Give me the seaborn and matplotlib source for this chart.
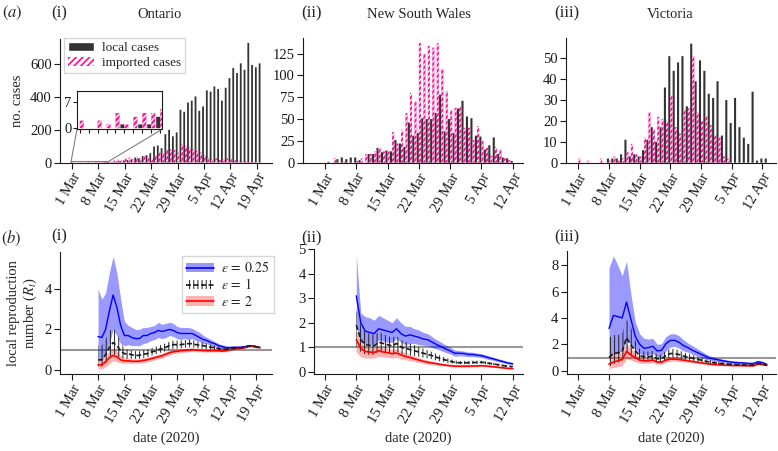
import numpy as np
import pandas as pd
import seaborn as sns
import matplotlib.pyplot as plt
from matplotlib.patches import Patch
from matplotlib.lines import Line2D
from mpl_toolkits.axes_grid1.inset_locator import mark_inset

sns.set_theme(style="ticks")
plt.rcParams["font.family"] = "serif"
plt.rcParams["font.serif"] = ["Liberation Serif", "DejaVu Serif"]
plt.rcParams["mathtext.fontset"] = "stix"
plt.rcParams["hatch.linewidth"] = 1.0

W, H = 778, 451
PINK = "#ff1a9c"
DARK = "#333333"

tick_days = [0, 7, 14, 21, 28, 35, 42, 49]
tick_labels = ["1 Mar", "8 Mar", "15 Mar", "22 Mar", "29 Mar", "5 Apr", "12 Apr", "19 Apr"]

# daily cases, day 0 = 1 Mar 2020
on_local = [0, 0, 0, 0, 0, 1, 0, 1, 1, 3, 3, 2, 5, 8, 12, 15, 20, 30, 25, 40,
            45, 57, 98, 104, 88, 173, 200, 160, 184, 322, 310, 367, 378, 404, 316, 343, 441, 433, 465, 449,
            378, 457, 516, 578, 547, 606, 567, 731, 596, 582, 606]
on_imported = [2, 0, 2, 1, 4, 1, 3, 4, 4, 5, 8, 12, 20, 15, 25, 30, 18, 35, 28, 38,
               30, 20, 45, 60, 55, 78, 80, 75, 60, 110, 98, 90, 80, 72, 60, 45, 30, 20, 25, 15,
               18, 25, 20, 15, 12, 5, 4, 3, 2, 1, 1]
nsw_local = [0, 1, 0, 4, 6, 4, 6, 6, 3, 0, 10, 10, 17, 12, 14, 13, 26, 22, 18, 46,
             31, 34, 51, 50, 50, 57, 78, 36, 50, 34, 62, 71, 53, 51, 31, 30, 15, 20, 29, 10,
             6, 5, 2]
nsw_imported = [0, 0, 5, 0, 2, 0, 0, 2, 5, 10, 10, 13, 17, 13, 13, 35, 22, 37, 57, 80,
                70, 137, 125, 134, 132, 137, 107, 82, 60, 63, 64, 40, 40, 26, 42, 25, 17, 8, 18, 15,
                5, 3, 0]
vic_local = [0, 0, 0, 0, 0, 0, 0, 2, 2, 2, 4, 11, 3, 4, 3, 6, 11, 17, 10, 17,
             36, 51, 44, 48, 51, 27, 57, 39, 49, 44, 33, 31, 39, 13, 30, 19, 31, 17, 12, 9,
             34, 1, 2, 2]
vic_imported = [2, 0, 1, 0, 0, 2, 0, 1, 3, 1, 2, 5, 9, 4, 3, 12, 24, 16, 22, 21,
                20, 32, 17, 14, 25, 26, 51, 24, 20, 22, 18, 13, 12, 3, 2, 0, 0, 0, 0, 0,
                0, 0, 0, 0]

# local reproduction number estimates, first day = 8 Mar (day 7)
r_start = 7
on_eps025 = [1.65, 1.6, 2.0, 2.9, 3.7, 3.1, 2.2, 1.7, 1.7, 1.6, 1.55, 1.55, 1.7, 1.7, 1.8, 1.85, 1.95, 1.9, 1.95, 2.0,
             1.95, 1.85, 1.8, 1.8, 1.8, 1.8, 1.7, 1.6, 1.5, 1.45, 1.35, 1.3, 1.2, 1.15, 1.1, 1.1, 1.12, 1.12, 1.12, 1.15,
             1.2, 1.2, 1.15, 1.12]
on_eps025_hi = [4.0, 3.5, 3.8, 4.8, 5.6, 4.8, 3.5, 2.4, 2.2, 2.1, 2.0, 2.0, 2.1, 2.1, 2.15, 2.2, 2.35, 2.25, 2.3, 2.35,
                2.3, 2.15, 2.1, 2.1, 2.1, 2.05, 1.95, 1.85, 1.7, 1.6, 1.5, 1.4, 1.3, 1.25, 1.2, 1.18, 1.18, 1.18, 1.18, 1.2,
                1.25, 1.25, 1.2, 1.15]
on_eps025_lo = [0.5, 0.5, 0.8, 1.3, 2.0, 1.7, 1.3, 1.2, 1.25, 1.2, 1.2, 1.2, 1.3, 1.35, 1.45, 1.5, 1.6, 1.55, 1.6, 1.7,
                1.65, 1.55, 1.5, 1.55, 1.5, 1.55, 1.45, 1.4, 1.3, 1.3, 1.2, 1.15, 1.1, 1.05, 1.02, 1.02, 1.05, 1.05, 1.07, 1.1,
                1.15, 1.15, 1.1, 1.08]
on_eps1 = [0.5, 0.5, 0.75, 1.1, 1.35, 1.2, 0.95, 0.8, 0.8, 0.75, 0.72, 0.72, 0.78, 0.8, 0.88, 0.92, 1.0, 1.05, 1.12, 1.2,
           1.25, 1.25, 1.25, 1.28, 1.3, 1.3, 1.25, 1.22, 1.2, 1.15, 1.12, 1.1, 1.05, 1.02, 1.02, 1.05, 1.08, 1.08, 1.1, 1.12,
           1.18, 1.18, 1.15, 1.1]
on_eps1_hi = [1.2, 1.2, 1.5, 1.9, 2.1, 1.8, 1.4, 1.05, 1.0, 0.95, 0.92, 0.92, 0.98, 1.0, 1.08, 1.12, 1.2, 1.25, 1.32, 1.4,
              1.45, 1.45, 1.45, 1.47, 1.5, 1.48, 1.42, 1.38, 1.35, 1.28, 1.25, 1.2, 1.15, 1.1, 1.1, 1.1, 1.12, 1.12, 1.14, 1.16,
              1.22, 1.22, 1.19, 1.14]
on_eps1_lo = [0.15, 0.15, 0.3, 0.55, 0.8, 0.7, 0.6, 0.55, 0.55, 0.55, 0.55, 0.55, 0.6, 0.62, 0.7, 0.75, 0.82, 0.87, 0.93, 1.0,
              1.05, 1.05, 1.07, 1.1, 1.12, 1.12, 1.08, 1.06, 1.05, 1.02, 1.0, 0.98, 0.96, 0.95, 0.96, 1.0, 1.04, 1.04, 1.06, 1.08,
              1.14, 1.14, 1.11, 1.06]
on_eps2 = [0.25, 0.25, 0.4, 0.6, 0.72, 0.65, 0.5, 0.45, 0.45, 0.43, 0.43, 0.43, 0.47, 0.5, 0.55, 0.6, 0.65, 0.7, 0.78, 0.85,
           0.9, 0.92, 0.95, 0.97, 0.98, 1.0, 0.98, 0.97, 0.96, 0.95, 0.95, 0.95, 0.95, 0.93, 0.95, 1.0, 1.03, 1.05, 1.07, 1.1,
           1.17, 1.17, 1.13, 1.1]
on_eps2_hi = [0.55, 0.55, 0.7, 0.95, 1.05, 0.95, 0.7, 0.6, 0.58, 0.55, 0.55, 0.55, 0.6, 0.62, 0.67, 0.72, 0.78, 0.83, 0.9, 0.97,
              1.0, 1.02, 1.05, 1.07, 1.08, 1.1, 1.07, 1.05, 1.04, 1.02, 1.02, 1.02, 1.0, 0.98, 1.0, 1.04, 1.07, 1.09, 1.11, 1.14,
              1.21, 1.21, 1.17, 1.13]
on_eps2_lo = [0.05, 0.05, 0.15, 0.3, 0.45, 0.4, 0.35, 0.32, 0.33, 0.32, 0.33, 0.33, 0.36, 0.4, 0.44, 0.49, 0.54, 0.58, 0.66, 0.74,
              0.8, 0.83, 0.86, 0.88, 0.9, 0.91, 0.9, 0.9, 0.89, 0.88, 0.88, 0.89, 0.9, 0.88, 0.9, 0.96, 0.99, 1.01, 1.03, 1.06,
              1.13, 1.13, 1.09, 1.07]

nsw_eps025 = [3.1, 2.0, 1.65, 1.6, 1.55, 1.75, 1.7, 1.65, 1.6, 1.75, 1.55, 1.45, 1.5, 1.45, 1.4, 1.33, 1.3, 1.2, 1.1, 1.02,
              0.92, 0.85, 0.75, 0.75, 0.74, 0.7, 0.7, 0.67, 0.65, 0.6, 0.55, 0.5, 0.45, 0.4, 0.35, 0.32]
nsw_eps025_hi = [4.75, 2.4, 2.25, 2.2, 2.1, 2.3, 2.2, 2.1, 2.0, 2.2, 2.0, 1.85, 1.85, 1.75, 1.7, 1.6, 1.55, 1.42, 1.3, 1.2,
                 1.08, 1.0, 0.88, 0.86, 0.84, 0.8, 0.79, 0.76, 0.73, 0.68, 0.62, 0.57, 0.51, 0.46, 0.4, 0.37]
nsw_eps025_lo = [1.9, 1.2, 1.15, 1.1, 1.1, 1.3, 1.25, 1.2, 1.2, 1.35, 1.2, 1.1, 1.15, 1.15, 1.1, 1.08, 1.05, 0.98, 0.92, 0.85,
                 0.78, 0.72, 0.63, 0.64, 0.64, 0.61, 0.61, 0.59, 0.57, 0.52, 0.48, 0.44, 0.39, 0.35, 0.3, 0.27]
nsw_eps1 = [1.9, 1.3, 1.1, 1.07, 1.05, 1.2, 1.15, 1.1, 1.05, 1.15, 1.0, 0.95, 0.9, 0.85, 0.8, 0.75, 0.7, 0.65, 0.58, 0.52,
            0.47, 0.42, 0.38, 0.36, 0.36, 0.36, 0.37, 0.37, 0.38, 0.36, 0.33, 0.3, 0.27, 0.24, 0.21, 0.2]
nsw_eps1_hi = [2.5, 1.9, 1.6, 1.55, 1.5, 1.6, 1.55, 1.45, 1.4, 1.45, 1.3, 1.22, 1.15, 1.08, 1.0, 0.93, 0.87, 0.8, 0.71, 0.63,
               0.57, 0.51, 0.46, 0.43, 0.43, 0.43, 0.44, 0.44, 0.44, 0.42, 0.38, 0.35, 0.31, 0.28, 0.25, 0.23]
nsw_eps1_lo = [1.0, 0.8, 0.7, 0.68, 0.68, 0.8, 0.78, 0.75, 0.72, 0.82, 0.72, 0.7, 0.67, 0.64, 0.6, 0.57, 0.54, 0.5, 0.45, 0.41,
               0.37, 0.34, 0.31, 0.3, 0.3, 0.3, 0.31, 0.31, 0.32, 0.3, 0.28, 0.25, 0.23, 0.2, 0.18, 0.17]
nsw_eps2 = [1.3, 0.95, 0.82, 0.8, 0.78, 0.85, 0.8, 0.77, 0.73, 0.76, 0.68, 0.62, 0.58, 0.52, 0.47, 0.42, 0.38, 0.35, 0.32, 0.29,
            0.26, 0.24, 0.22, 0.22, 0.22, 0.22, 0.23, 0.23, 0.24, 0.23, 0.21, 0.19, 0.17, 0.15, 0.13, 0.12]
nsw_eps2_hi = [1.7, 1.2, 1.05, 1.0, 0.98, 1.05, 1.0, 0.95, 0.9, 0.93, 0.83, 0.76, 0.7, 0.63, 0.57, 0.51, 0.46, 0.42, 0.38, 0.34,
               0.31, 0.28, 0.26, 0.25, 0.25, 0.25, 0.26, 0.26, 0.27, 0.26, 0.24, 0.22, 0.19, 0.17, 0.15, 0.14]
nsw_eps2_lo = [0.8, 0.6, 0.55, 0.55, 0.56, 0.62, 0.6, 0.58, 0.55, 0.58, 0.52, 0.48, 0.45, 0.41, 0.37, 0.33, 0.3, 0.28, 0.26, 0.24,
               0.22, 0.2, 0.18, 0.18, 0.18, 0.18, 0.19, 0.19, 0.2, 0.19, 0.17, 0.16, 0.14, 0.12, 0.11, 0.1]

vic_eps025 = [3.2, 4.2, 4.1, 4.0, 5.2, 3.9, 2.6, 2.0, 1.7, 1.75, 1.85, 1.5, 1.55, 2.05, 2.3, 2.3, 2.15, 1.9, 1.75, 1.55,
              1.4, 1.25, 1.1, 0.95, 0.88, 0.82, 0.75, 0.7, 0.65, 0.62, 0.6, 0.58, 0.55, 0.55, 0.68, 0.6, 0.48]
vic_eps025_hi = [7.8, 8.7, 8.0, 7.2, 8.3, 5.8, 3.7, 2.8, 2.45, 2.4, 2.45, 2.0, 2.05, 2.6, 2.8, 2.8, 2.65, 2.35, 2.1, 1.9,
                 1.7, 1.5, 1.3, 1.12, 1.02, 0.95, 0.87, 0.8, 0.75, 0.72, 0.7, 0.67, 0.63, 0.64, 0.8, 0.72, 0.57]
vic_eps025_lo = [1.0, 1.3, 1.4, 1.5, 2.3, 2.0, 1.6, 1.3, 1.15, 1.2, 1.3, 1.05, 1.1, 1.5, 1.8, 1.85, 1.7, 1.5, 1.4, 1.25,
                 1.12, 1.0, 0.9, 0.78, 0.73, 0.69, 0.63, 0.59, 0.55, 0.53, 0.51, 0.49, 0.47, 0.46, 0.56, 0.49, 0.4]
vic_eps1 = [1.0, 1.3, 1.35, 1.45, 2.5, 1.95, 1.5, 1.15, 1.05, 1.05, 1.12, 0.9, 0.92, 1.15, 1.3, 1.3, 1.22, 1.12, 1.02, 0.95,
            0.88, 0.8, 0.72, 0.65, 0.6, 0.57, 0.53, 0.5, 0.48, 0.46, 0.45, 0.43, 0.42, 0.42, 0.55, 0.5, 0.42]
vic_eps1_hi = [2.5, 2.7, 2.7, 2.8, 3.9, 3.3, 2.3, 1.65, 1.45, 1.45, 1.5, 1.2, 1.22, 1.5, 1.65, 1.65, 1.55, 1.4, 1.28, 1.18,
               1.08, 0.98, 0.88, 0.79, 0.72, 0.68, 0.63, 0.59, 0.56, 0.54, 0.52, 0.5, 0.48, 0.48, 0.63, 0.57, 0.48]
vic_eps1_lo = [0.3, 0.5, 0.6, 0.7, 1.4, 1.1, 0.9, 0.75, 0.7, 0.72, 0.78, 0.63, 0.66, 0.85, 0.98, 1.0, 0.93, 0.86, 0.79, 0.74,
               0.69, 0.63, 0.57, 0.52, 0.49, 0.46, 0.43, 0.41, 0.4, 0.38, 0.38, 0.36, 0.36, 0.36, 0.47, 0.43, 0.36]
vic_eps2 = [0.5, 0.65, 0.75, 0.85, 1.45, 1.2, 1.0, 0.8, 0.75, 0.75, 0.8, 0.65, 0.65, 0.8, 0.88, 0.88, 0.85, 0.8, 0.75, 0.7,
            0.65, 0.6, 0.55, 0.5, 0.47, 0.45, 0.43, 0.41, 0.4, 0.39, 0.39, 0.38, 0.37, 0.38, 0.5, 0.46, 0.4]
vic_eps2_hi = [1.1, 1.3, 1.35, 1.45, 2.1, 1.7, 1.35, 1.05, 0.95, 0.95, 1.0, 0.8, 0.8, 0.97, 1.05, 1.05, 1.0, 0.93, 0.87, 0.81,
               0.75, 0.69, 0.63, 0.57, 0.53, 0.51, 0.48, 0.46, 0.45, 0.44, 0.43, 0.42, 0.41, 0.42, 0.55, 0.5, 0.44]
vic_eps2_lo = [0.15, 0.25, 0.3, 0.38, 0.9, 0.8, 0.68, 0.58, 0.55, 0.56, 0.6, 0.5, 0.5, 0.63, 0.71, 0.72, 0.7, 0.67, 0.63, 0.59,
               0.55, 0.51, 0.47, 0.43, 0.41, 0.39, 0.38, 0.36, 0.35, 0.35, 0.35, 0.34, 0.33, 0.34, 0.45, 0.42, 0.36]


def rect(left, top, right, bottom):
    return [left / W, 1 - bottom / H, (right - left) / W, (bottom - top) / H]


def style_axis(ax, xlim, ylim, yticks, last_tick):
    sns.despine(ax=ax)
    ax.set_xlim(*xlim)
    ax.set_ylim(*ylim)
    ax.set_yticks(yticks)
    n = tick_days.index(last_tick) + 1
    ax.set_xticks(tick_days[:n])
    ax.set_xticklabels(tick_labels[:n], rotation=60, ha="right", rotation_mode="anchor")
    ax.tick_params(labelsize=10.5, length=4, width=0.8, pad=2, colors="k")
    for s in ax.spines.values():
        s.set_color("k")
        s.set_linewidth(0.8)
    ax.set_xlabel("")


def case_panel(ax, local, imported, width=0.95):
    days = list(range(len(local)))
    df = pd.DataFrame({
        "day": days + days,
        "cases": local + imported,
        "kind": ["local cases"] * len(days) + ["imported cases"] * len(days),
    })
    plt.rcParams["hatch.linewidth"] = 1.0
    sns.barplot(data=df, x="day", y="cases", hue="kind",
                hue_order=["local cases", "imported cases"],
                palette=[DARK, PINK], native_scale=True, width=width,
                errorbar=None, legend=False, saturation=1, ax=ax)
    for bar in ax.containers[0]:
        bar.set_snap(False)
        bar.set_linewidth(0)
    for bar in ax.containers[1]:
        bar.set_snap(False)
        bar.set_edgecolor("white")
        bar.set_hatch("//////")
        bar.set_linewidth(0)
    ax.set_ylabel("")


def r_panel(ax, bands):
    for med, lo, hi, kind in bands:
        days = np.arange(r_start, r_start + len(med))
        if kind == "blue":
            ax.fill_between(days, lo, hi, color="#0000ff", alpha=0.4, lw=0, zorder=1)
        elif kind == "red":
            ax.fill_between(days, lo, hi, color="#ff0000", alpha=0.3, lw=0, zorder=2)
        else:
            plt.rcParams["hatch.linewidth"] = 0.7
            ax.fill_between(days, lo, hi, facecolor="none", edgecolor="#222222",
                            hatch="||||", lw=0, zorder=3)
            plt.rcParams["hatch.linewidth"] = 1.0
    for med, lo, hi, kind in bands:
        days = np.arange(r_start, r_start + len(med))
        if kind == "blue":
            sns.lineplot(x=days, y=med, color="#0000ff", lw=1.0, ax=ax, zorder=5)
        elif kind == "red":
            sns.lineplot(x=days, y=med, color="#ff0000", lw=1.2, ax=ax, zorder=5)
        else:
            sns.lineplot(x=days, y=med, color="k", lw=1.2, ax=ax, zorder=6,
                         linestyle=(0, (3, 1.5)))
    ax.axhline(1, color="0.6", lw=1.5, zorder=0)


fig = plt.figure(figsize=(W / 100, H / 100), dpi=100)

# ---- (a) case counts
ax1 = fig.add_axes(rect(60, 39, 272, 162.5))
case_panel(ax1, on_local, on_imported)
style_axis(ax1, (-3.18, 53.05), (0, 755), [0, 200, 400, 600], 49)
ax1.set_ylabel("no. cases", fontsize=10.5)
plt.rcParams["hatch.linewidth"] = 1.3
leg_handles = [Patch(facecolor=DARK),
               Patch(facecolor="white", edgecolor=PINK, hatch="/////", lw=0)]
ax1.legend(leg_handles, ["local cases", "imported cases"], loc="upper left",
           bbox_to_anchor=(0.0, 1.04), fontsize=9.5, frameon=True, fancybox=False,
           edgecolor="0.8", handlelength=2.0, handleheight=0.7,
           borderpad=0.3, labelspacing=0.2, handletextpad=0.6, borderaxespad=0.3)
plt.rcParams["hatch.linewidth"] = 1.0

# inset with the first days in Ontario
axin = fig.add_axes(rect(77, 91, 162, 129.3))
case_panel(axin, on_local[:11], on_imported[:11], width=0.9)
axin.set_xlim(-0.3, 9.2)
axin.set_ylim(-0.3, 9.8)
axin.set_yticks([0, 7])
axin.set_xticks(range(10))
axin.set_xticklabels([])
axin.set_xlabel("")
axin.tick_params(labelsize=10.5, length=3, width=0.8, pad=1, colors="k")
for s in axin.spines.values():
    s.set_color("k")
    s.set_linewidth(0.8)
mark_inset(ax1, axin, loc1=3, loc2=4, fc="none", ec="0.5", lw=0.8)

ax2 = fig.add_axes(rect(303, 38, 523, 162.7))
case_panel(ax2, nsw_local, nsw_imported)
style_axis(ax2, (-4.92, 44.3), (0, 143), [0, 25, 50, 75, 100, 125], 42)

ax3 = fig.add_axes(rect(566, 38, 776, 162.7))
case_panel(ax3, vic_local, vic_imported)
style_axis(ax3, (-2.8, 45.1), (0, 59.7), [0, 10, 20, 30, 40, 50], 42)

# ---- (b) reproduction number
bx1 = fig.add_axes(rect(60, 251.7, 272, 374))
r_panel(bx1, [(on_eps025, on_eps025_lo, on_eps025_hi, "blue"),
              (on_eps2, on_eps2_lo, on_eps2_hi, "red"),
              (on_eps1, on_eps1_lo, on_eps1_hi, "black")])
style_axis(bx1, (-3.1, 53.2), (-0.2, 5.84), [0, 2, 4], 49)
bx1.set_ylabel("local reproduction\nnumber ($R_t$)", fontsize=10.5, linespacing=1.1)
bx1.set_xlabel("date (2020)", fontsize=10.5)

plt.rcParams["hatch.linewidth"] = 0.7
r_handles = [
    (Patch(facecolor="#0000ff", alpha=0.4, lw=0), Line2D([], [], color="#0000ff", lw=1.2)),
    (Patch(facecolor="none", edgecolor="#222222", hatch="||||", lw=0), Line2D([], [], color="k", lw=1.2, linestyle=(0, (3, 1.5)))),
    (Patch(facecolor="#ff0000", alpha=0.3, lw=0), Line2D([], [], color="#ff0000", lw=1.2)),
]
bx1.legend(r_handles, [r"$\varepsilon\,=\,0.25$", r"$\varepsilon\,=\,1$", r"$\varepsilon\,=\,2$"],
           loc="upper right", bbox_to_anchor=(1.04, 1.02), fontsize=10, frameon=True,
           fancybox=False, edgecolor="0.8", handlelength=2.0, handleheight=0.7,
           borderpad=0.3, labelspacing=0.15, handletextpad=0.5)
plt.rcParams["hatch.linewidth"] = 1.0

bx2 = fig.add_axes(rect(314, 249.3, 523, 374))
r_panel(bx2, [(nsw_eps025, nsw_eps025_lo, nsw_eps025_hi, "blue"),
              (nsw_eps2, nsw_eps2_lo, nsw_eps2_hi, "red"),
              (nsw_eps1, nsw_eps1_lo, nsw_eps1_hi, "black")])
style_axis(bx2, (-2.46, 44.3), (-0.1, 5.0), [0, 1, 2, 3, 4, 5], 42)
bx2.set_xlabel("date (2020)", fontsize=10.5)

bx3 = fig.add_axes(rect(566.7, 250.7, 776, 374))
r_panel(bx3, [(vic_eps025, vic_eps025_lo, vic_eps025_hi, "blue"),
              (vic_eps2, vic_eps2_lo, vic_eps2_hi, "red"),
              (vic_eps1, vic_eps1_lo, vic_eps1_hi, "black")])
style_axis(bx3, (-2.65, 45.1), (-0.25, 9.1), [0, 2, 4, 6, 8], 42)
bx3.set_xlabel("date (2020)", fontsize=10.5)

# panel labels and titles
def ftext(x, y, s, **kw):
    fig.text(x / W, 1 - y / H, s, ha="center", va="center", **kw)

ftext(12, 13, r"$(a)$", fontsize=12)
ftext(59, 13, "(i)", fontsize=12)
ftext(160, 14, "Ontario", fontsize=10.5)
ftext(311, 13, "(ii)", fontsize=12)
ftext(419, 14, "New South Wales", fontsize=10.5)
ftext(567, 13, "(iii)", fontsize=12)
ftext(670, 14, "Victoria", fontsize=10.5)
ftext(11, 238, r"$(b)$", fontsize=12)
ftext(59, 236, "(i)", fontsize=12)
ftext(311, 238, "(ii)", fontsize=12)
ftext(567, 237, "(iii)", fontsize=12)

fig.savefig("out.png", dpi=100)
